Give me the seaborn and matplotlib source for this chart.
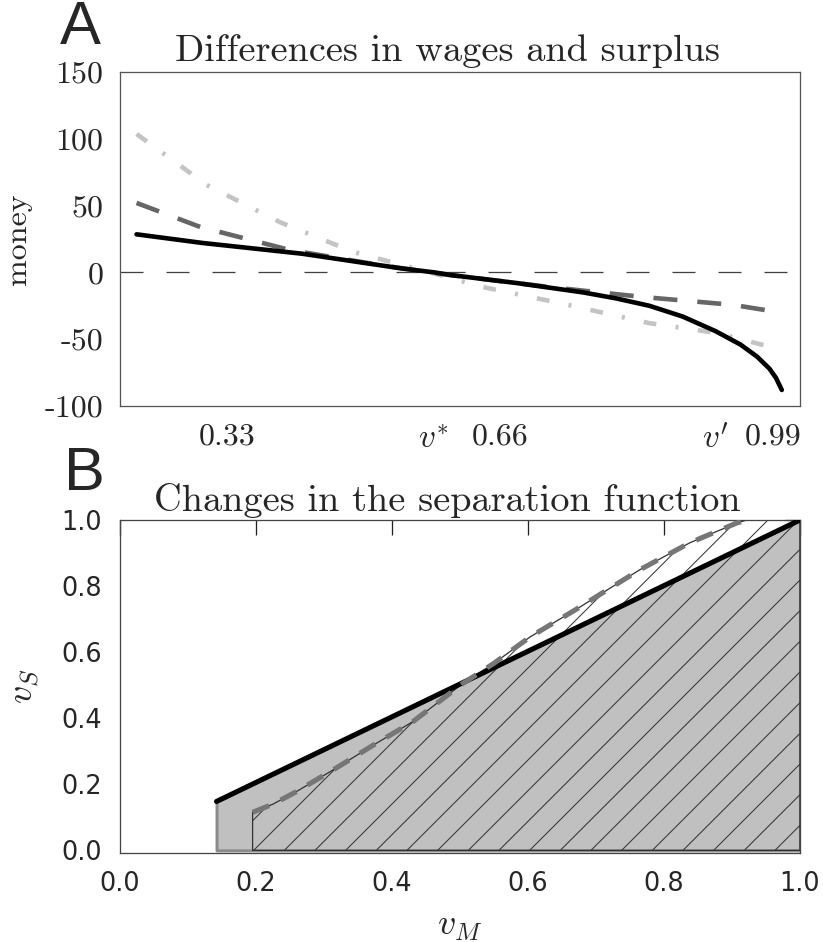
import matplotlib
matplotlib.use("Agg")
import matplotlib.pyplot as plt
import numpy as np
import pandas as pd
import seaborn as sns

# panel A: wage / surplus differences against v
v_grid = [0.22, 0.30, 0.42, 0.54, 0.58, 0.60, 0.68, 0.76, 0.80, 0.84, 0.88, 0.92,
          0.95, 0.97, 0.985, 0.993, 1.0]
diff_solid = [28.5, 22, 14, 3, 0, -2, -8, -15, -19.5, -25, -33, -44,
              -54, -63, -72, -79, -88]
v_grid2 = [0.22, 0.297, 0.405, 0.514, 0.599, 0.72, 0.832, 0.941, 1.0]
diff_dashed = [52, 34, 16.8, 5.5, -2, -11, -18.4, -24.3, -30.2]
v_grid3 = [0.22, 0.305, 0.393, 0.482, 0.578, 0.639, 0.732, 0.84, 0.92, 0.986]
diff_dashdot = [103.6, 65.4, 37.7, 15.3, -0.5, -11, -23, -38, -45.2, -55.7]
v_star = 0.578
v_prime = 0.919
a_xticklabels = ["0.33", "0.66", "0.99"]
a_xtick_pos = [0.33, 0.66, 0.99]
a_yticks = [150, 100, 50, 0, -50, -100]

# panel B: separation function before / after
sep_old_x = [0.142, 1.0]
sep_old_y = [0.148, 1.0]
sep_new_x = [0.195, 0.225, 0.257, 0.313, 0.372, 0.431, 0.504, 0.549, 0.603,
             0.676, 0.706, 0.765, 0.838, 0.907, 0.922]
sep_new_y = [0.115, 0.14, 0.175, 0.243, 0.318, 0.39, 0.505, 0.565, 0.646,
             0.736, 0.775, 0.85, 0.931, 0.991, 1.0]

sns.set_style("white")
plt.rcParams["mathtext.fontset"] = "cm"
plt.rcParams["lines.scale_dashes"] = False
plt.rcParams["hatch.linewidth"] = 0.4
plt.rcParams["font.family"] = ["DejaVu Sans"]

DPI = 184
fig = plt.figure(figsize=(823 / DPI, 942 / DPI), dpi=DPI)
axA = fig.add_axes([120 / 823, 1 - 406 / 942, 680 / 823, 334 / 942])
axB = fig.add_axes([120 / 823, 1 - 853 / 942, 680 / 823, 333 / 942])

# ---------- panel A
dfA1 = pd.DataFrame({"v": v_grid, "d": diff_solid})
dfA2 = pd.DataFrame({"v": v_grid2, "d": diff_dashed})
dfA3 = pd.DataFrame({"v": v_grid3, "d": diff_dashdot})
axA.axhline(0, color="#404040", lw=0.5, ls=(0, (9, 9)), zorder=1)
sns.lineplot(data=dfA3, x="v", y="d", ax=axA, color="#c4c4c4", lw=1.8,
             ls=(0, (5, 7.6, 1.2, 7.6)), estimator=None, sort=False, zorder=2)
sns.lineplot(data=dfA2, x="v", y="d", ax=axA, color="#666666", lw=1.8,
             ls=(0, (9.4, 7.8)), estimator=None, sort=False, zorder=3)
sns.lineplot(data=dfA1, x="v", y="d", ax=axA, color="black", lw=1.8,
             estimator=None, sort=False, zorder=4)
axA.set_xlim(0.2, 1.022)
axA.set_ylim(-100, 150)
axA.set_yticks(a_yticks)
axA.set_yticklabels([str(t) for t in a_yticks], fontfamily="cmr10", fontsize=12.5)
axA.set_xticks([v_star, v_prime])
axA.set_xticklabels([r"$v^{*}$", r"$v'$"], fontsize=13)
axA.set_xticks(a_xtick_pos, minor=True)
axA.set_xticklabels(a_xticklabels, minor=True, fontfamily="cmr10", fontsize=12.5)
axA.tick_params(axis="x", which="major", direction="in", length=4, width=0.5,
                color="#333333", pad=6.5)
axA.tick_params(axis="x", which="minor", length=0, pad=6.5)
axA.tick_params(axis="y", length=0, pad=6.5)
axA.set_xlabel("")
axA.set_ylabel("money", fontfamily="cmr10", fontsize=12.5)
axA.yaxis.set_label_coords(-0.13, 0.5)
for s in axA.spines.values():
    s.set_color("#555555")
    s.set_linewidth(0.5)
axA.set_title("Differences in wages and surplus", fontfamily="cmr10",
              fontsize=15, x=0.481, pad=4.5)
fig.text(80 / 823, 1 - 28 / 942, "A", fontfamily="Liberation Sans",
         fontsize=24, ha="center", va="center")

# ---------- panel B
axB.fill_between(sep_old_x, 0, sep_old_y, facecolor="#c0c0c0",
                 edgecolor="#8c8c8c", lw=1.2, zorder=1)
hatch_x = sep_new_x + [1.0]
hatch_y = sep_new_y + [1.0]
axB.fill_between(hatch_x, 0, hatch_y, facecolor="none", edgecolor="#333333",
                 hatch="//", lw=0.5, zorder=2)
dfB_old = pd.DataFrame({"vm": sep_old_x, "vs": sep_old_y})
dfB_new = pd.DataFrame({"vm": sep_new_x, "vs": sep_new_y})
sns.lineplot(data=dfB_old, x="vm", y="vs", ax=axB, color="black", lw=2.0,
             estimator=None, sort=False, zorder=3)
sns.lineplot(data=dfB_new, x="vm", y="vs", ax=axB, color="#767676", lw=2.0,
             ls=(0, (7, 5)), estimator=None, sort=False, zorder=4)
axB.set_xlim(0, 1)
axB.set_ylim(-0.008, 1.0)
ticksB = [0.0, 0.2, 0.4, 0.6, 0.8, 1.0]
axB.set_xticks(ticksB)
axB.set_yticks(ticksB)
axB.set_xticklabels([f"{t:.1f}" for t in ticksB], fontsize=10)
axB.set_yticklabels([f"{t:.1f}" for t in ticksB], fontsize=10)
axB.tick_params(direction="in", length=6, width=0.5, color="#222222",
                top=True, right=True, pad=7)
axB.set_xlabel(r"$v_M$", fontsize=14)
axB.set_ylabel(r"$v_S$", fontsize=14)
axB.xaxis.set_label_coords(0.5, -0.168)
axB.yaxis.set_label_coords(-0.114, 0.5)
for s in axB.spines.values():
    s.set_color("#444444")
    s.set_linewidth(0.5)
axB.set_title("Changes in the separation function", fontfamily="cmr10",
              fontsize=15, x=0.481, pad=3.5)
fig.text(84 / 823, 1 - 475 / 942, "B", fontfamily="Liberation Sans",
         fontsize=24, ha="center", va="center")

fig.savefig("out.png", dpi=DPI)
